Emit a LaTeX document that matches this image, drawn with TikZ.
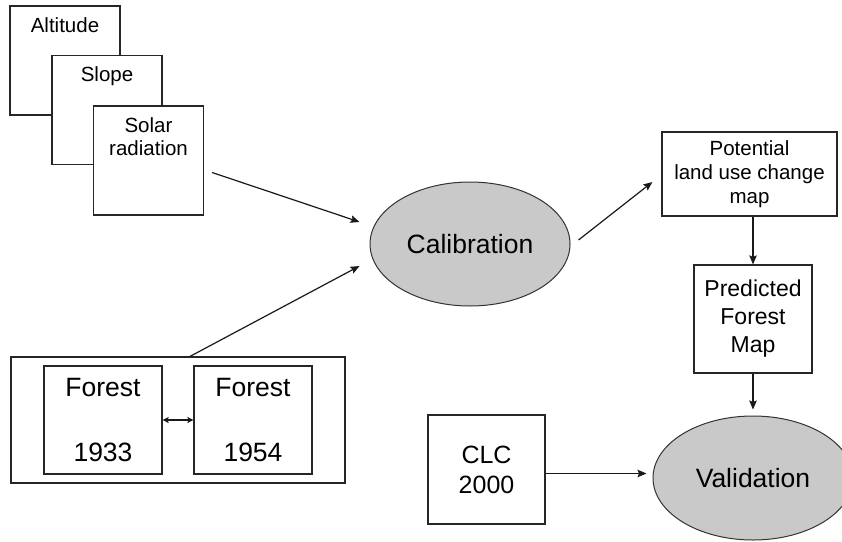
\documentclass[tikz,border=0pt]{standalone}
\usepackage{fontspec}
\setmainfont{Liberation Sans}
\usetikzlibrary{positioning,arrows.meta,shapes.geometric}
\tikzset{
  card/.style={draw=black!85, fill=white, line width=1.2pt, minimum width=110pt, minimum height=109pt},
  cardtext/.style={inner sep=0pt, align=center, font=\fontsize{20.5}{23}\selectfont},
  box/.style={draw=black!85, fill=white, line width=1.2pt, align=center, inner sep=0pt},
  oval/.style={draw=black!80, fill=black!21, ellipse, line width=1pt, minimum width=200pt, minimum height=124pt, font=\fontsize{26.5}{30}\selectfont},
  flow/.style={-{Stealth[length=9pt,width=7.5pt,inset=1.5pt]}, black!90, line width=1.2pt},
  both/.style={{Stealth[length=6pt,width=6pt,inset=1pt]}-{Stealth[length=6pt,width=6pt,inset=1pt]}, black!90, line width=1.2pt}
}

\begin{document}
\begin{tikzpicture}[x=1pt,y=-1pt]
  \clip (0,0) rectangle (842,541);
  \fill[white] (0,0) rectangle (842,541);

  % stacked input layers
  \node[card] (alt) at (65,60.5) {};
  \node[cardtext, below=12pt of alt.north] (alttext) {Altitude};
  \node[card] (slope) at (107,110) {};
  \node[cardtext, below=12pt of slope.north] (slopetext) {Slope};
  \node[card] (solar) at (148.5,160.5) {};
  \node[cardtext, below=12pt of solar.north] (solartext) {Solar\\radiation};

  % forest maps
  \node[box, minimum width=334pt, minimum height=126pt] (frame) at (178,420) {};
  \node[box, minimum width=118pt, minimum height=108pt, font=\fontsize{26.5}{30}\selectfont] (f33) at (103,420) {Forest\\[35pt]1933};
  \node[box, minimum width=118pt, minimum height=108pt, font=\fontsize{26.5}{30}\selectfont] (f54) at (253,420) {Forest\\[35pt]1954};
  \draw[both] (f33.east) -- (f54.west);

  \node[oval] (calib) at (470,244) {Calibration};
  \node[box, minimum width=175pt, minimum height=84pt, font=\fontsize{20.5}{24}\selectfont] (pot) at (749.5,174) {Potential\\land use change\\map};
  \node[box, minimum width=118pt, minimum height=108pt, font=\fontsize{23}{28}\selectfont] (pred) at (753,319) {Predicted\\Forest\\Map};
  \node[oval] (valid) at (753,478) {Validation};
  \node[box, minimum width=117pt, minimum height=109pt, font=\fontsize{25}{30}\selectfont] (clc) at (486.5,469.5) {CLC\\2000};

  \draw[flow] ([xshift=8pt,yshift=-12pt]solar.east) -- ([xshift=-10pt,yshift=22pt]calib.west);
  \draw[flow] ([xshift=12pt]frame.north) -- ([xshift=-10pt,yshift=-22pt]calib.west);
  \draw[flow] ([xshift=8pt,yshift=4pt]calib.east) -- ([xshift=-9pt,yshift=-8pt]pot.west);
  \draw[flow] (pot.south -| pred.north) -- (pred.north);
  \draw[flow, shorten >=6pt] (pred.south) -- (valid.north);
  \draw[flow, shorten >=6pt] ([yshift=-4pt]clc.east) -- ([yshift=-4pt]clc.east -| valid.west);
\end{tikzpicture}
\end{document}
